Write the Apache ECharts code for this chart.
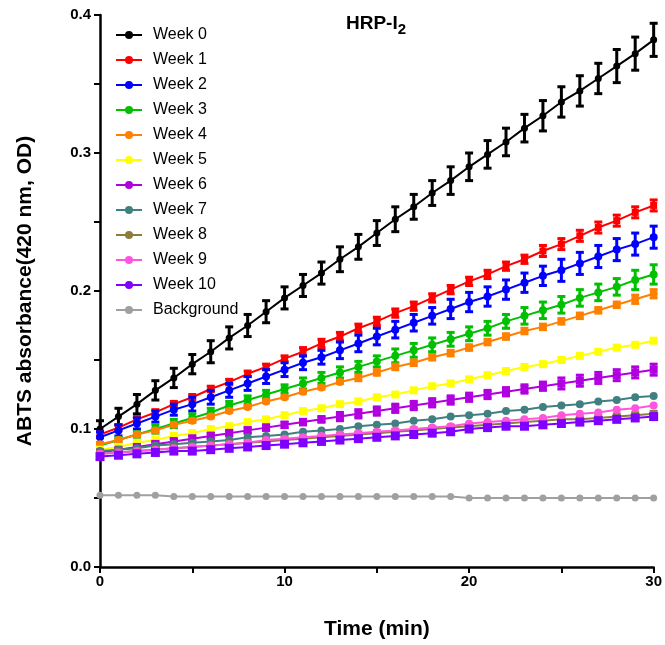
<!DOCTYPE html>
<html>
<head>
<meta charset="utf-8">
<script src="https://cdn.jsdelivr.net/npm/echarts@6/dist/echarts.min.js"></script>
<style>html,body{margin:0;padding:0;background:#fff}#c{width:665px;height:645px}</style>
</head>
<body>
<div id="c"></div>
<script>
const times = [0,1,2,3,4,5,6,7,8,9,10,11,12,13,14,15,16,17,18,19,20,21,22,23,24,25,26,27,28,29,30];
const seriesNames = ['Week 0','Week 1','Week 2','Week 3','Week 4','Week 5','Week 6','Week 7','Week 8','Week 9','Week 10','Background'];
const colors = ['#000000','#ff0000','#0000ff','#00c000','#ff8000','#ffff00','#b000e0','#408080','#8c7d3c','#ff55dd','#8000ff','#a0a0a0'];

const week0 = [0.100,0.109,0.118,0.128,0.137,0.147,0.156,0.166,0.175,0.185,0.195,0.204,0.213,0.223,0.232,0.242,0.252,0.261,0.271,0.280,0.290,0.299,0.308,0.318,0.327,0.337,0.345,0.354,0.363,0.372,0.382];
const week1 = [0.096,0.101,0.107,0.112,0.118,0.123,0.129,0.134,0.140,0.145,0.151,0.156,0.162,0.167,0.173,0.178,0.184,0.189,0.195,0.201,0.207,0.212,0.218,0.223,0.229,0.234,0.240,0.246,0.251,0.257,0.262];
const week2 = [0.094,0.099,0.104,0.109,0.114,0.118,0.123,0.128,0.133,0.138,0.143,0.148,0.152,0.157,0.162,0.167,0.172,0.177,0.182,0.187,0.192,0.196,0.201,0.206,0.211,0.215,0.220,0.225,0.230,0.234,0.239];
const week3 = [0.088,0.092,0.096,0.100,0.104,0.108,0.112,0.117,0.121,0.125,0.129,0.133,0.137,0.141,0.145,0.149,0.153,0.157,0.161,0.165,0.169,0.173,0.178,0.182,0.186,0.190,0.195,0.199,0.203,0.208,0.212];
const week4 = [0.089,0.092,0.096,0.099,0.103,0.106,0.109,0.113,0.116,0.120,0.123,0.127,0.130,0.134,0.137,0.141,0.145,0.148,0.152,0.155,0.159,0.163,0.167,0.171,0.174,0.178,0.182,0.186,0.190,0.194,0.198];
const week5 = [0.085,0.087,0.090,0.092,0.095,0.097,0.100,0.102,0.105,0.107,0.110,0.113,0.115,0.118,0.120,0.123,0.125,0.128,0.131,0.133,0.136,0.139,0.142,0.145,0.147,0.150,0.153,0.156,0.159,0.161,0.164];
const week6 = [0.083,0.085,0.087,0.089,0.091,0.093,0.095,0.097,0.099,0.101,0.103,0.105,0.107,0.109,0.111,0.113,0.115,0.117,0.119,0.121,0.123,0.125,0.127,0.129,0.131,0.133,0.135,0.137,0.139,0.141,0.143];
const week7 = [0.084,0.085,0.086,0.088,0.089,0.090,0.091,0.092,0.094,0.095,0.096,0.098,0.099,0.100,0.102,0.103,0.104,0.106,0.107,0.109,0.110,0.111,0.113,0.114,0.116,0.117,0.118,0.120,0.121,0.123,0.124];
const week8 = [0.082,0.083,0.084,0.085,0.086,0.087,0.088,0.089,0.090,0.091,0.092,0.093,0.094,0.095,0.096,0.097,0.098,0.099,0.100,0.101,0.102,0.103,0.104,0.105,0.106,0.107,0.107,0.108,0.109,0.110,0.111];
const week9 = [0.082,0.083,0.084,0.085,0.086,0.087,0.088,0.089,0.090,0.092,0.093,0.094,0.095,0.096,0.097,0.098,0.099,0.100,0.101,0.102,0.104,0.105,0.106,0.107,0.108,0.110,0.111,0.112,0.114,0.115,0.117];
const week10 = [0.080,0.081,0.082,0.083,0.084,0.084,0.085,0.086,0.087,0.088,0.089,0.090,0.091,0.092,0.093,0.094,0.095,0.096,0.097,0.098,0.100,0.101,0.102,0.102,0.103,0.104,0.105,0.106,0.107,0.108,0.109];
const background = [0.052,0.052,0.052,0.052,0.051,0.051,0.051,0.051,0.051,0.051,0.051,0.051,0.051,0.051,0.051,0.051,0.051,0.051,0.051,0.051,0.050,0.050,0.050,0.050,0.050,0.050,0.050,0.050,0.050,0.050,0.050];

// error bars (± SD)
const err0 = [0.006,0.006,0.007,0.007,0.007,0.007,0.008,0.008,0.008,0.008,0.008,0.008,0.008,0.009,0.009,0.009,0.009,0.009,0.009,0.010,0.010,0.010,0.010,0.010,0.011,0.011,0.011,0.011,0.012,0.012,0.012];
const err1 = [0.002,0.002,0.002,0.002,0.002,0.002,0.002,0.002,0.002,0.002,0.002,0.003,0.003,0.003,0.003,0.003,0.003,0.003,0.003,0.003,0.003,0.003,0.003,0.003,0.004,0.004,0.004,0.004,0.004,0.004,0.004];
const err2 = [0.004,0.004,0.004,0.004,0.004,0.005,0.005,0.005,0.005,0.005,0.005,0.005,0.005,0.006,0.006,0.006,0.006,0.006,0.006,0.007,0.007,0.007,0.007,0.007,0.007,0.008,0.008,0.008,0.008,0.008,0.008];
const err3 = [0.002,0.002,0.002,0.003,0.003,0.003,0.003,0.003,0.003,0.003,0.003,0.004,0.004,0.004,0.004,0.004,0.005,0.005,0.005,0.005,0.005,0.005,0.005,0.006,0.006,0.006,0.006,0.006,0.006,0.007,0.007];
const err4 = [0.001,0.001,0.001,0.001,0.001,0.001,0.001,0.001,0.001,0.001,0.001,0.001,0.001,0.001,0.002,0.002,0.002,0.002,0.002,0.002,0.002,0.002,0.002,0.002,0.002,0.002,0.002,0.002,0.002,0.003,0.003];
const err6 = [0.001,0.001,0.001,0.002,0.002,0.002,0.002,0.002,0.002,0.002,0.002,0.002,0.002,0.003,0.003,0.003,0.003,0.003,0.003,0.003,0.003,0.003,0.003,0.003,0.003,0.004,0.004,0.004,0.004,0.004,0.004];

const yLabels = ['0.0','0.1','0.2','0.3','0.4'];
const xLabels = ['0','10','20','30'];

const values = [week0,week1,week2,week3,week4,week5,week6,week7,week8,week9,week10,background];
const errors = [err0,err1,err2,err3,err4,null,err6,null,null,null,null,null];
const symbols = ['circle','rect','circle','circle','circle','rect','rect','circle','rect','circle','rect','circle'];
const symSizes = [7,7,8,8,8,8,8,8,8,8,9,7];

const legendIcon = 'path://M0,4.1L9.5,4.1L9.5,5.9L0,5.9Z M16.5,4.1L26,4.1L26,5.9L16.5,5.9Z M9,5A4,4 0 1,1 17,5A4,4 0 1,1 9,5Z';

const series = [];
values.forEach((vals, i) => {
  series.push({
    name: seriesNames[i],
    type: 'line',
    data: times.map((t, k) => [t, vals[k]]),
    symbol: symbols[i],
    symbolSize: symSizes[i],
    itemStyle: { color: colors[i] },
    lineStyle: { color: colors[i], width: 2 },
    z: 2 + i,
    animation: false
  });
  if (errors[i]) {
    const e = errors[i];
    series.push({
      type: 'custom',
      data: times.map((t, k) => [t, vals[k], e[k]]),
      z: 2 + i,
      animation: false,
      renderItem: function (params, api) {
        const x = api.value(0), y = api.value(1), d = api.value(2);
        const hi = api.coord([x, y + d]);
        const lo = api.coord([x, y - d]);
        const w = 4;
        const st = { stroke: colors[i], lineWidth: 3 };
        return {
          type: 'group',
          children: [
            { type: 'line', shape: { x1: hi[0], y1: hi[1], x2: lo[0], y2: lo[1] }, style: st },
            { type: 'line', shape: { x1: hi[0] - w, y1: hi[1], x2: hi[0] + w, y2: hi[1] }, style: st },
            { type: 'line', shape: { x1: lo[0] - w, y1: lo[1], x2: lo[0] + w, y2: lo[1] }, style: st }
          ]
        };
      }
    });
  }
});

const font = 'Liberation Sans, Arial, Helvetica, sans-serif';
const chart = echarts.init(document.getElementById('c'), null, { renderer: 'canvas' });
chart.setOption({
  backgroundColor: '#ffffff',
  animation: false,
  title: {
    text: '{a|HRP-I}{b|2}',
    left: 341, top: 5,
    textStyle: {
      rich: {
        a: { fontFamily: font, fontWeight: 'bold', fontSize: 19, color: '#000' },
        b: { fontFamily: font, fontWeight: 'bold', fontSize: 15, color: '#000', padding: [12, 0, 0, 0] }
      }
    }
  },
  legend: {
    orient: 'vertical',
    left: 111, top: 22,
    itemWidth: 26, itemHeight: 10,
    itemGap: 9,
    data: seriesNames.map((n, i) => ({ name: n, icon: legendIcon, itemStyle: { color: colors[i] } })),
    textStyle: { fontFamily: font, fontSize: 16, color: '#000', padding: [0, 0, 0, 6] },
    selectedMode: false
  },
  grid: { left: 100, right: 10, top: 15, bottom: 78, containLabel: false },
  xAxis: {
    type: 'value', min: 0, max: 30, interval: 5,
    name: 'Time (min)', nameLocation: 'middle', nameGap: 52,
    nameTextStyle: { fontFamily: font, fontWeight: 'bold', fontSize: 21, color: '#000' },
    axisLine: { lineStyle: { color: '#000', width: 2.5 } },
    axisTick: { length: 6, lineStyle: { color: '#000', width: 2 } },
    axisLabel: {
      fontFamily: font, fontWeight: 'bold', fontSize: 15, color: '#000', margin: 7,
      formatter: v => (xLabels.indexOf(String(v)) >= 0 ? String(v) : '')
    },
    splitLine: { show: false }
  },
  yAxis: {
    type: 'value', min: 0, max: 0.4, interval: 0.05,
    name: 'ABTS absorbance(420 nm, OD)', nameLocation: 'middle', nameGap: 64,
    nameTextStyle: { fontFamily: font, fontWeight: 'bold', fontSize: 21, color: '#000' },
    axisLine: { show: true, lineStyle: { color: '#000', width: 2.5 } },
    axisTick: { show: true, length: 6, lineStyle: { color: '#000', width: 2 } },
    axisLabel: {
      fontFamily: font, fontWeight: 'bold', fontSize: 15, color: '#000', margin: 9,
      formatter: v => { const s = v.toFixed(1); return (Math.abs(v * 10 - Math.round(v * 10)) < 1e-6 && yLabels.indexOf(s) >= 0) ? s : ''; }
    },
    splitLine: { show: false }
  },
  series: series
});
</script>
</body>
</html>
